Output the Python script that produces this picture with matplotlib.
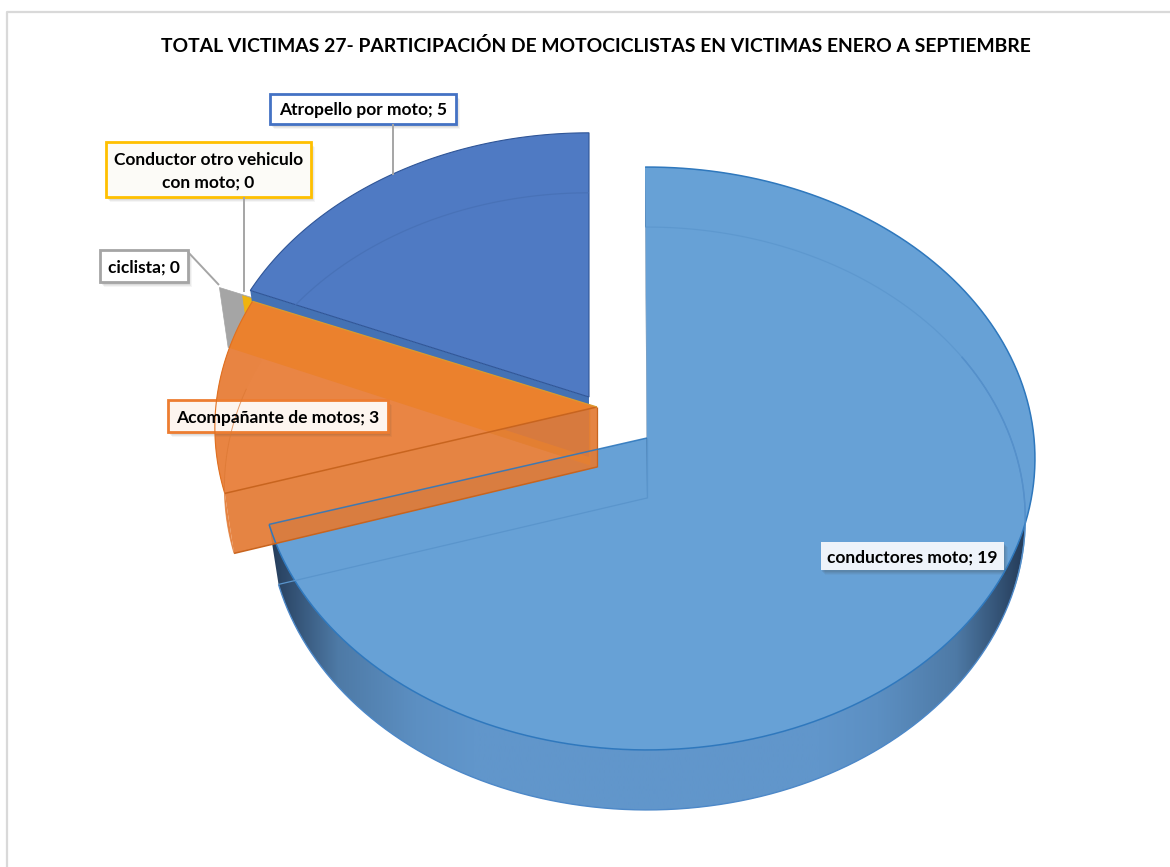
import numpy as np
import matplotlib
matplotlib.use("Agg")
import matplotlib.pyplot as plt
from matplotlib.patches import Polygon, Rectangle
from matplotlib.colors import to_rgba

title = "TOTAL VICTIMAS 27- PARTICIPACIÓN DE MOTOCICLISTAS EN VICTIMAS ENERO A SEPTIEMBRE"
categories = ["conductores moto", "Acompañante de motos", "ciclista", "Conductor otro vehiculo\ncon moto", "Atropello por moto"]
# the two zero labels are slivers in the chart, so they are small but not 0
values = [19, 2.92, 0.03, 0.03, 5.02]

colors = ["#67a1d6", "#e98544", "#a5a5a5", "#efb30e", "#4f7ac3"]
edges = ["#2f78bd", "#c8641e", "#8c8c8c", "#c79200", "#2f5597"]
box_edges = [None, "#ed7d31", "#a5a5a5", "#ffc000", "#4472c4"]
box_fills = ["#eef3fa", "#fdf5ef", "#ffffff", "#fcfbf7", "#ffffff"]

# apex of every exploded slice on the page, in pixels
apex_x = [647, 597, 568, 590, 589]
apex_y = [438, 407, 395, 405, 397]
stretch_x = [1, 0.985, 1, 1, 0.975]
stretch_y = [1, 1, 1, 1, 0.975]

# label boxes: x0, y0, x1, y1
boxes = [(821, 542, 1004, 570), (168, 400, 388, 432), (100, 250, 188, 282), (106, 142, 311, 197), (270, 94, 456, 124)]
leaders = [None, None, ((188, 252), (219, 285)), ((244, 197), (244, 292)), ((393, 124), (393, 175))]

A = 290.0
B = 387.0
K = 0.0703
DEPTH = 60.0
SHRINK = 0.975
START = -0.3


def project(i, ang, low=False):
    rad = np.radians(ang)
    u = np.sin(rad) * stretch_x[i]
    v = np.cos(rad)
    w = 1 + K * v
    if low:
        return apex_x[i] + SHRINK * B * u / w, apex_y[i] + DEPTH - A * stretch_y[i] * v / w
    return apex_x[i] + B * u / w, apex_y[i] - A * stretch_y[i] * v / w


def arc(i, a0, a1, low=False):
    ang = np.linspace(a0, a1, max(int(abs(a1 - a0) * 2), 2))
    x, y = project(i, ang, low)
    return np.column_stack([x, y])


def centre(i, low=False):
    return np.array([[apex_x[i], apex_y[i] + (DEPTH if low else 0)]])


def face(i, a0, a1, low=False):
    return np.vstack([centre(i, low), arc(i, a0, a1, low)])


def corner(i, a, low=False):
    x, y = project(i, a, low)
    return np.array([[x, y]])


def cut(i, a):
    return np.vstack([centre(i), corner(i, a), corner(i, a, True), centre(i, True)])


def add(ax, pts, fc, alpha=1.0, ec="none", lw=0):
    p = Polygon(pts, closed=True, facecolor=to_rgba(fc, alpha), edgecolor=ec, linewidth=lw)
    ax.add_patch(p)
    return p


def line(ax, pts, c, lw=0.9, alpha=1.0):
    pts = np.asarray(pts)
    ax.plot(pts[:, 0], pts[:, 1], color=c, lw=lw, alpha=alpha, solid_capstyle="butt")


total = sum(values)
spans = [v / total * 360 for v in values]
a_start = START + np.cumsum([0] + spans[:-1])
a_end = a_start + np.array(spans)
a_end[4] += 0.3  # right edge of the blue slice is upright in the chart

plt.rcParams["font.family"] = ["Lato", "DejaVu Sans"]
fig = plt.figure(figsize=(11.7, 8.67), dpi=100)
ax = fig.add_axes([0, 0, 1, 1])
ax.axis("off")

# chart frame, only left and top are inside the crop
line(ax, [(7, 867), (7, 12), (1170, 12)], "#d9d9d9", lw=1.6)
ax.text(596, 46, title, ha="center", va="center", fontsize=13.93, fontweight="bold", color="black")

# main slice: rim is a gradient across the page clipped to the rim shape
a0, a1 = a_start[0], a_end[0]
xs = np.linspace(250, 1045, 400)
t = np.abs(xs - apex_x[0]) / B
stops = [0, 0.45, 0.6, 0.8, 0.97]
grad = np.column_stack([np.interp(t, stops, [97, 97, 92, 78, 38]),
                        np.interp(t, stops, [150, 150, 143, 122, 62]),
                        np.interp(t, stops, [203, 203, 194, 166, 92])]) / 255
rim = add(ax, np.vstack([arc(0, a0, a1), arc(0, a0, a1, True)[::-1]]), "none")
im = ax.imshow(grad[np.newaxis, :, :], extent=(250, 1045, 830, 150), aspect="auto", interpolation="bilinear")
im.set_clip_path(rim)
line(ax, arc(0, a0 + 60, a1, True), "#4d88c8", lw=1.0)
add(ax, face(0, a0, a1), colors[0])
add(ax, cut(0, a0), "#2f5f90", alpha=0.9)
line(ax, arc(0, a0, a1), edges[0], lw=1.1)
line(ax, arc(0, a0, a0 + 108, True), "#5a95cc", lw=0.9, alpha=0.7)
line(ax, face(0, a1, a1 + 0.01, True)[:2], "#5a95cc", lw=0.9)
line(ax, [centre(0)[0], centre(0, True)[0]], "#5a95cc", lw=0.9)

# the two slivers, their cut faces are what shows
for i in [2, 3]:
    add(ax, cut(i, a_end[i]), colors[i], ec=colors[i], lw=0.5)

# blue slice
add(ax, cut(4, a_start[4]), "#4472b4")
add(ax, face(4, a_start[4], a_end[4]), colors[4], ec=edges[4], lw=0.8)
line(ax, arc(4, a_start[4] + 10, a_end[4], True), "#4770b5", lw=0.9, alpha=0.8)

# orange slice, see-through so the faces behind it show
o0, o1 = a_start[1], a_end[1]
top_face = add(ax, face(1, o0, o1), colors[1])
add(ax, np.vstack([arc(1, o0, o1), arc(1, o0, o1, True)[::-1]]), "#e88442")
band = add(ax, np.vstack([centre(1), corner(1, o1), corner(2, a_end[2]), corner(2, a_end[2], True), centre(1, True)]), "#eb812d")
band.set_clip_path(top_face)
add(ax, cut(1, o0), "#e37b35", alpha=0.93)
line(ax, face(1, o0, o0 + 0.01)[:2], edges[1], lw=1.1)
line(ax, face(1, o0, o0 + 0.01, True)[:2], edges[1], lw=1.1)
line(ax, arc(1, o0, o1), "#e07020", lw=0.8)
line(ax, arc(1, o0, o1 - 6, True), "#dc7833", lw=0.7, alpha=0.7)
line(ax, [centre(1)[0], centre(1, True)[0]], edges[1], lw=0.9)
line(ax, face(1, o1, o1 + 0.01)[:2], "#d99a2e", lw=0.9)

# edge of the main slice runs over the orange
line(ax, face(0, a1, a1 + 0.01)[:2], edges[0], lw=1.1, alpha=0.9)

# leaders and labels
for pts in leaders:
    if pts is not None:
        line(ax, pts, "#a5a5a5", lw=1.4)

for name, val, box, ec, fc in zip(categories, values, boxes, box_edges, box_fills):
    x0, y0, x1, y1 = box
    for off, al in [(5, 0.05), (4, 0.07), (3, 0.08), (2, 0.1)]:
        ax.add_patch(Rectangle((x0 + off - 1, y0 + off), x1 - x0, y1 - y0, facecolor=to_rgba("#404040", al), edgecolor="none"))
    ax.add_patch(Rectangle((x0, y0), x1 - x0, y1 - y0, facecolor=fc, edgecolor=ec if ec else "none", linewidth=2.0 if ec else 0))
    ax.text((x0 + x1) / 2, (y0 + y1) / 2 + 1.5, "%s; %.0f" % (name, val), ha="center", va="center",
            fontsize=12.5, fontweight="bold", color="black", linespacing=1.5)

ax.set_xlim(0, 1170)
ax.set_ylim(867, 0)
fig.savefig("out.png", dpi=100)
